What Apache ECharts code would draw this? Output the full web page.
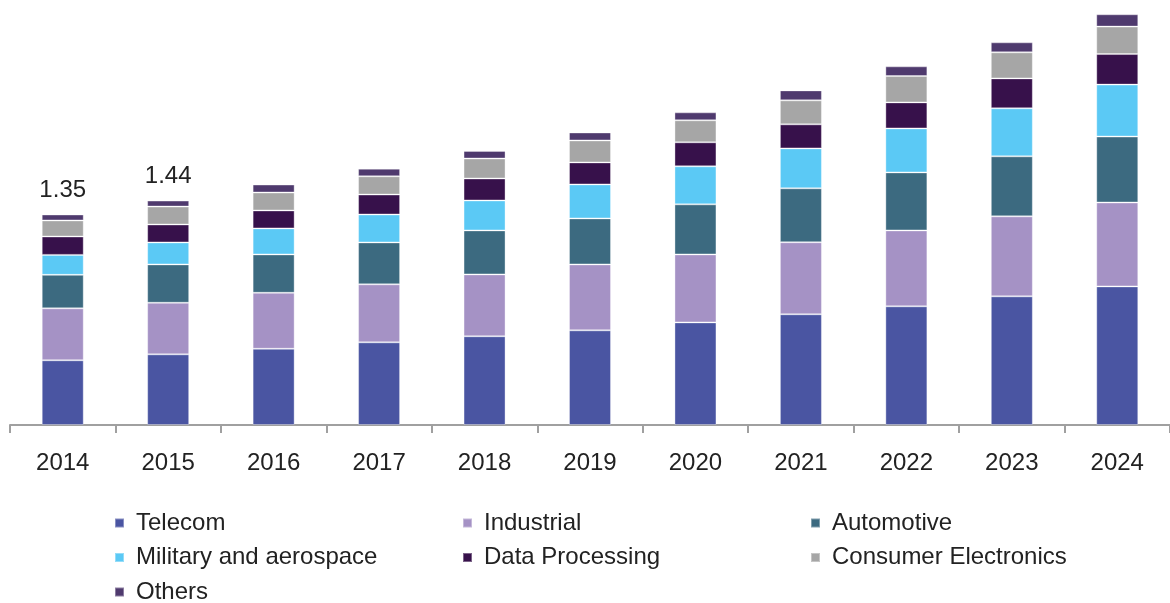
<!DOCTYPE html>
<html>
<head>
<meta charset="utf-8">
<title>Market by application</title>
<script src="https://cdn.jsdelivr.net/npm/echarts@6/dist/echarts.min.js"></script>
<style>
  html, body { margin: 0; padding: 0; background: #fff; }
  #chart { width: 1170px; height: 603px; }
</style>
</head>
<body>
<div id="chart"></div>
<script>
const years = ['2014', '2015', '2016', '2017', '2018', '2019', '2020', '2021', '2022', '2023', '2024']

// values (stack order bottom -> top)
const telecom = [0.415, 0.453, 0.489, 0.530, 0.569, 0.607, 0.658, 0.710, 0.761, 0.825, 0.889]
const industrial = [0.333, 0.331, 0.359, 0.372, 0.397, 0.423, 0.436, 0.462, 0.487, 0.513, 0.538]
const automotive = [0.215, 0.246, 0.246, 0.269, 0.282, 0.295, 0.321, 0.346, 0.372, 0.385, 0.423]
const military = [0.128, 0.141, 0.167, 0.179, 0.192, 0.218, 0.244, 0.256, 0.282, 0.308, 0.333]
const dataProcessing = [0.118, 0.115, 0.115, 0.128, 0.141, 0.141, 0.154, 0.154, 0.167, 0.192, 0.196]
const consumer = [0.103, 0.115, 0.115, 0.117, 0.128, 0.141, 0.141, 0.154, 0.169, 0.167, 0.176]
const others = [0.038, 0.038, 0.051, 0.049, 0.049, 0.051, 0.051, 0.064, 0.062, 0.064, 0.079]

// totals printed above the first two bars only
const totalLabels = ['1.35', '1.44']

const seriesNames = ['Telecom', 'Industrial', 'Automotive', 'Military and aerospace', 'Data Processing', 'Consumer Electronics', 'Others']
const seriesData = [telecom, industrial, automotive, military, dataProcessing, consumer, others]
const colors = ['#4a55a2', '#a592c5', '#3c6a80', '#5bc9f5', '#37114b', '#a6a6a6', '#4f3a6e']

const FONT = 'Arial, "Liberation Sans", sans-serif'

const chart = echarts.init(document.getElementById('chart'), null, { renderer: 'canvas' })

// legend laid out as a 3-column grid
const legends = seriesNames.map((name, i) => ({
  data: [name],
  left: 109 + (i % 3) * 348,
  top: 506 + Math.floor(i / 3) * 34.5,
  icon: 'rect',
  itemWidth: 9,
  itemHeight: 9,
  selectedMode: false,
  textStyle: {
    fontFamily: FONT,
    fontSize: 24,
    color: '#222',
    padding: [0, 0, 0, 7]
  }
}))

const option = {
  animation: false,
  color: colors,
  legend: legends,
  grid: {
    left: 10,
    width: 1166,
    top: 4,
    bottom: 178
  },
  xAxis: {
    type: 'category',
    data: years,
    axisLine: { lineStyle: { color: '#a0a0a0', width: 2 } },
    axisTick: { show: true, alignWithLabel: false, length: 8, lineStyle: { color: '#a0a0a0', width: 2 } },
    axisLabel: {
      margin: 26,
      fontFamily: FONT,
      fontSize: 24,
      color: '#222'
    }
  },
  yAxis: {
    type: 'value',
    min: 0,
    max: 2.7,
    show: false
  },
  series: seriesNames.map((name, i) => ({
    name,
    type: 'bar',
    stack: 'total',
    barWidth: 42,
    data: seriesData[i],
    itemStyle: {
      color: colors[i],
      borderColor: 'rgba(255,255,255,0.35)',
      borderWidth: 1
    },
    label: i === seriesNames.length - 1 ? {
      show: true,
      position: 'top',
      distance: 12,
      fontFamily: FONT,
      fontSize: 24,
      color: '#222',
      formatter: (p) => totalLabels[p.dataIndex] || ''
    } : { show: false }
  }))
}

chart.setOption(option)
</script>
</body>
</html>
